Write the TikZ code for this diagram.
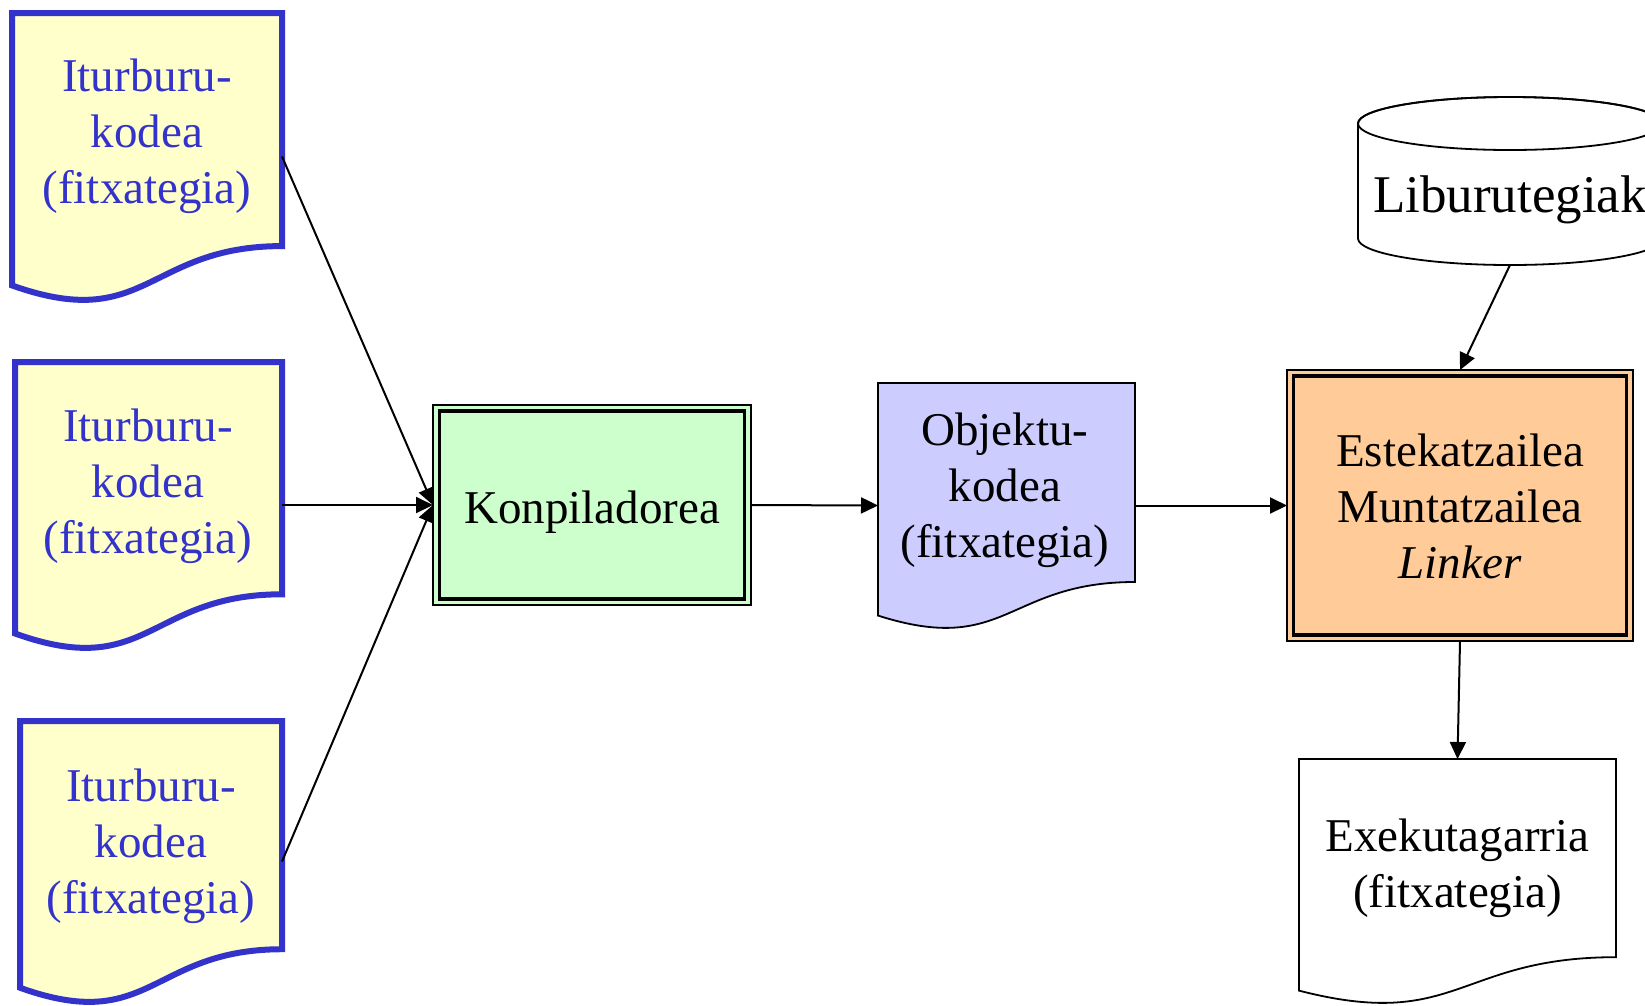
\documentclass[tikz,border=0pt]{standalone}
\usepackage{fontspec}
\setmainfont{Liberation Serif}
\usetikzlibrary{arrows.meta}
\definecolor{srcblue}{HTML}{3333CC}
\definecolor{srcfill}{HTML}{FFFFCC}
\definecolor{compfill}{HTML}{CCFFCC}
\definecolor{objfill}{HTML}{CCCCFF}
\definecolor{linkfill}{HTML}{FFCC99}

% Document (wavy bottom) outline plus an invisible named hull node.
% #1 name, #2 style, #3 left, #4 top, #5 right, #6 lowest point
\newcommand\docshape[6]{%
  \pgfmathsetmacro\dh{(#6-#4)/0.985}%
  \pgfmathsetmacro\dm{(#3+#5)/2}%
  \draw[#2] (#3,#4) -- (#5,#4) -- (#5,{#4+0.80*\dh})
     .. controls (\dm,{#4+0.80*\dh}) and (\dm,{#4+1.1*\dh}) .. (#3,{#4+0.935*\dh}) -- cycle;
  \node[hull, minimum width={#5-#3}, minimum height={#6-#4}] (#1) at ({(#3+#5)/2},{(#4+#6)/2}) {};%
}

\begin{document}
\begin{tikzpicture}[x=1pt,y=-1pt,
  hull/.style={draw=none, inner sep=0pt, outer sep=0pt},
  % text nodes are placed by the baseline of their last line
  txt/.style={anchor=base, align=center, inner sep=0pt, font=\fontsize{47}{56}\selectfont},
  srctxt/.style={txt, text=srcblue},
  srcdoc/.style={draw=srcblue, fill=srcfill, line width=6pt, line join=miter},
  objdoc/.style={draw=black, fill=objfill, line width=1.8pt},
  exedoc/.style={draw=black, fill=white, line width=1.8pt},
  procbox/.style={draw=black, line width=2pt, inner sep=0pt, outer sep=0pt},
  innerframe/.style={draw=black, line width=3.5pt},
  conn/.style={draw=black, line width=2pt, -{Triangle[length=17pt,width=16pt]}}
]
\useasboundingbox (0,0) rectangle (1645,1005);
\fill[white] (0,0) rectangle (1645,1005);

% source files
\docshape{src1}{srcdoc}{12}{13}{282}{300}
\node[srctxt] (src1t) at (147,203) {Iturburu-\\kodea\\(fitxategia)};
\docshape{src2}{srcdoc}{15}{362}{282}{648}
\node[srctxt] (src2t) at (148,553) {Iturburu-\\kodea\\(fitxategia)};
\docshape{src3}{srcdoc}{20}{721}{282}{1002}
\node[srctxt] (src3t) at (151,913) {Iturburu-\\kodea\\(fitxategia)};

% compiler
\node[procbox, fill=compfill, minimum width=318, minimum height=200] (comp) at (592,505) {};
\draw[innerframe] ([shift={(6.5,6)}]comp.north west) rectangle ([shift={(-6.5,-6)}]comp.south east);
\node[txt] (compt) at (592,523) {Konpiladorea};

% object file
\docshape{obj}{objdoc}{878}{383}{1135}{628}
\node[txt] (objt) at (1005,557) {Objektu-\\kodea\\(fitxategia)};

% linker
\node[procbox, fill=linkfill, minimum width=346, minimum height=271] (link) at (1460,505.5) {};
\draw[innerframe] ([shift={(6.5,6)}]link.north west) rectangle ([shift={(-6.5,-6)}]link.south east);
\node[txt] (linkt) at (1460,578) {Estekatzailea\\Muntatzailea\\\textit{Linker}};

% libraries (cylinder)
\filldraw[draw=black, fill=white, line width=1.8pt]
  (1358,123.5) -- (1358,238.5) arc[start angle=180, end angle=0, x radius=152, y radius=26.5]
  -- (1662,123.5) arc[start angle=0, end angle=-180, x radius=152, y radius=26.5] -- cycle;
\draw[line width=1.8pt] (1510,123.5) ellipse[x radius=152, y radius=26.5];
\node[hull, minimum width=304, minimum height=168] (lib) at (1510,181) {};
\node[txt, font=\fontsize{53}{60}\selectfont] (libt) at (1510,212) {Liburutegiak};

% executable
\docshape{exe}{exedoc}{1299}{759}{1616}{1003}
\node[txt] (exet) at (1457.5,907) {Exekutagarria\\(fitxategia)};

% connectors
\draw[conn] (src1.east) -- (comp.west);
\draw[conn] (src2.east) -- (comp.west);
\draw[conn] (src3.east) -- (comp.west);
\draw[conn] (comp.east) -- (obj.west);
\draw[conn] (obj.east) -- (link.west);
\draw[conn] (lib.south) -- (link.north);
\draw[conn] (link.south) -- (exe.north);
\end{tikzpicture}
\end{document}
